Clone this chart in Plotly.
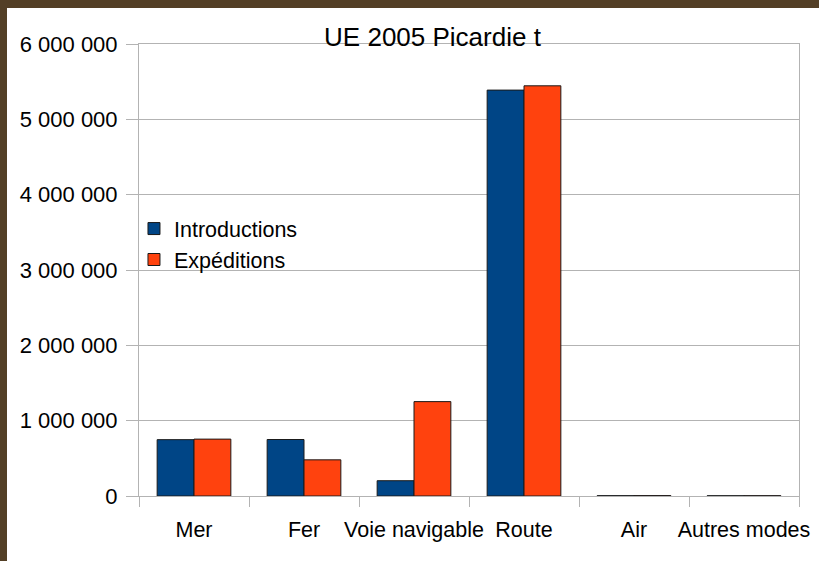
import plotly.graph_objects as go

categories = ["Mer", "Fer", "Voie navigable", "Route", "Air", "Autres modes"]
introductions = [748000, 750000, 203000, 5388000, 4000, 3000]
expeditions = [755000, 480000, 1253000, 5445000, 5000, 4000]
y_ticks = [0, 1000000, 2000000, 3000000, 4000000, 5000000, 6000000]

FONT = "Liberation Sans, Arial, sans-serif"
GRID = "#b3b3b3"
FRAME = "#533f26"

fig = go.Figure()
fig.add_trace(go.Bar(name="Introductions", x=categories, y=introductions,
                     marker=dict(color="#004586", line=dict(color="#1a1a1a", width=1))))
fig.add_trace(go.Bar(name="Expéditions", x=categories, y=expeditions,
                     marker=dict(color="#ff420e", line=dict(color="#1a1a1a", width=1))))

fig.update_layout(
    width=819, height=561,
    margin=dict(l=139, r=20, t=44, b=65, autoexpand=False),
    paper_bgcolor="white", plot_bgcolor="white",
    font=dict(family=FONT, size=21.5, color="#000000"),
    separators=", ",
    barmode="group", bargap=0.33, bargroupgap=0,
    title=dict(text="UE 2005 Picardie t", font=dict(size=26, color="#000"),
               x=432.5 / 819, xref="container", xanchor="center",
               y=1 - 37 / 561, yref="container", yanchor="middle",
               automargin=False),
    legend=dict(x=-0.0076, y=0.637, xanchor="left", yanchor="top",
                bgcolor="rgba(0,0,0,0)", font=dict(size=21.5),
                tracegroupgap=0, itemwidth=30),
    showlegend=True,
    xaxis=dict(showline=True, linecolor=GRID, linewidth=1, mirror=True,
               ticks="outside", tickson="boundaries", ticklen=10, tickcolor=GRID,
               showgrid=False, tickfont=dict(size=21.5), tickangle=0,
               automargin=False, ticklabelstandoff=14),
    yaxis=dict(range=[0, 6000000], tickvals=y_ticks, tickformat=",d",
               showline=True, linecolor=GRID, linewidth=1, mirror=True,
               ticks="outside", ticklen=12, tickcolor=GRID,
               showgrid=True, gridcolor=GRID, gridwidth=1,
               zeroline=False, tickfont=dict(size=22), automargin=False,
               ticklabelstandoff=4),
    shapes=[
        dict(type="rect", xref="paper", yref="paper",
             x0=-0.5, x1=1.5, y0=(496 - 8) / 452, y1=1.5,
             fillcolor=FRAME, line=dict(width=0), layer="above"),
        dict(type="rect", xref="paper", yref="paper",
             x0=-0.5, x1=(7 - 139) / 660, y0=-0.5, y1=1.5,
             fillcolor=FRAME, line=dict(width=0), layer="above"),
    ],
)

fig.write_html("out.html",
               config={"displayModeBar": False},
               post_script="document.body.style.margin='0';"
                           "document.body.style.overflow='hidden';")
